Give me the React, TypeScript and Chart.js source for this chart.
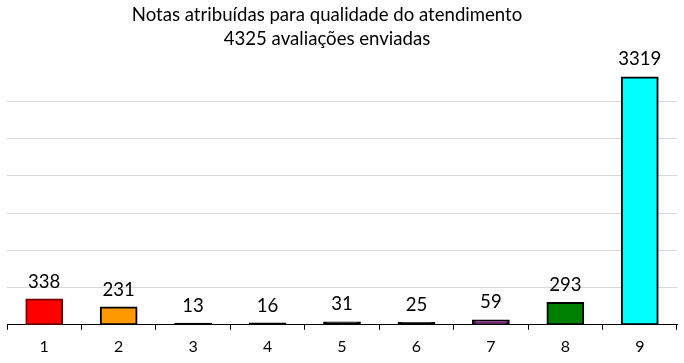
import React, { useEffect, useRef } from "react";
import { Chart, registerables } from "chart.js";

Chart.register(...registerables);

const categories = ["1", "2", "3", "4", "5", "6", "7", "8", "9"];
const values = [338, 231, 13, 16, 31, 25, 59, 293, 3319];
const fillColors = ["#ff0000", "#ff9900", "#000000", "#000000", "#000000", "#000000", "#7a1f7a", "#008000", "#00ffff"];
const borderColors = ["#7a0000", "#000000", "#000000", "#000000", "#000000", "#000000", "#000000", "#000000", "#000000"];
const titleLines = ["Notas atribuídas para qualidade do atendimento", "4325 avaliações enviadas"];
const yMax = 3500;
const yStep = 500;

const FONT = "Lato, 'Open Sans', sans-serif";

export default function App() {
  const ref = useRef<HTMLCanvasElement | null>(null);

  useEffect(() => {
    if (!ref.current) return;
    const titlePlugin = {
      id: "customTitle",
      afterDraw(chart: any) {
        const ctx = chart.ctx;
        ctx.save();
        ctx.font = `18.6px ${FONT}`;
        ctx.fillStyle = "#000";
        ctx.textAlign = "center";
        ctx.textBaseline = "alphabetic";
        ctx.fillText(titleLines[0], 327, 21);
        ctx.fillText(titleLines[1], 327, 45);
        ctx.restore();
      },
    };
    const labelPlugin = {
      id: "barLabels",
      afterDatasetsDraw(chart: any) {
        const ctx = chart.ctx;
        const meta = chart.getDatasetMeta(0);
        ctx.save();
        ctx.font = `18.6px ${FONT}`;
        ctx.fillStyle = "#000";
        ctx.textAlign = "center";
        ctx.textBaseline = "alphabetic";
        meta.data.forEach((el: any, i: number) => {
          ctx.fillText(String(values[i]), el.x, el.y - 12);
        });
        ctx.restore();
      },
    };
    const chart = new Chart(ref.current, {
      type: "bar",
      data: {
        labels: categories,
        datasets: [
          {
            data: values,
            backgroundColor: fillColors,
            borderColor: borderColors,
            borderWidth: 2,
            borderSkipped: false,
            inflateAmount: 1,
            barPercentage: 0.48,
            categoryPercentage: 1,
          } as any,
        ],
      },
      options: {
        animation: false,
        responsive: false,
        maintainAspectRatio: false,
        layout: { padding: { top: 64, left: 7, right: 7, bottom: 0 } },
        plugins: {
          legend: { display: false },
          title: { display: false },
          tooltip: { enabled: false },
        },
        scales: {
          x: {
            grid: {
              offset: true,
              drawOnChartArea: false,
              drawTicks: true,
              tickLength: 5,
              color: "#000",
            },
            border: { display: true, color: "#000", width: 1 },
            ticks: {
              color: "#000",
              font: { family: FONT, size: 16 },
              padding: 7,
            },
          },
          y: {
            min: 0,
            max: yMax,
            ticks: { display: false, stepSize: yStep },
            border: { display: false },
            grid: {
              drawTicks: false,
              color: (c: any) => (c.tick && c.tick.value === yMax ? "rgba(0,0,0,0)" : "#d9d9d9"),
              lineWidth: 1,
            },
          },
        },
      },
      plugins: [titlePlugin, labelPlugin],
    });
    return () => chart.destroy();
  }, []);

  return (
    <div style={{ position: "fixed", left: 0, top: 0, width: 684, height: 363, background: "#fff" }}>
      <canvas ref={ref} width={684} height={363} />
    </div>
  );
}
